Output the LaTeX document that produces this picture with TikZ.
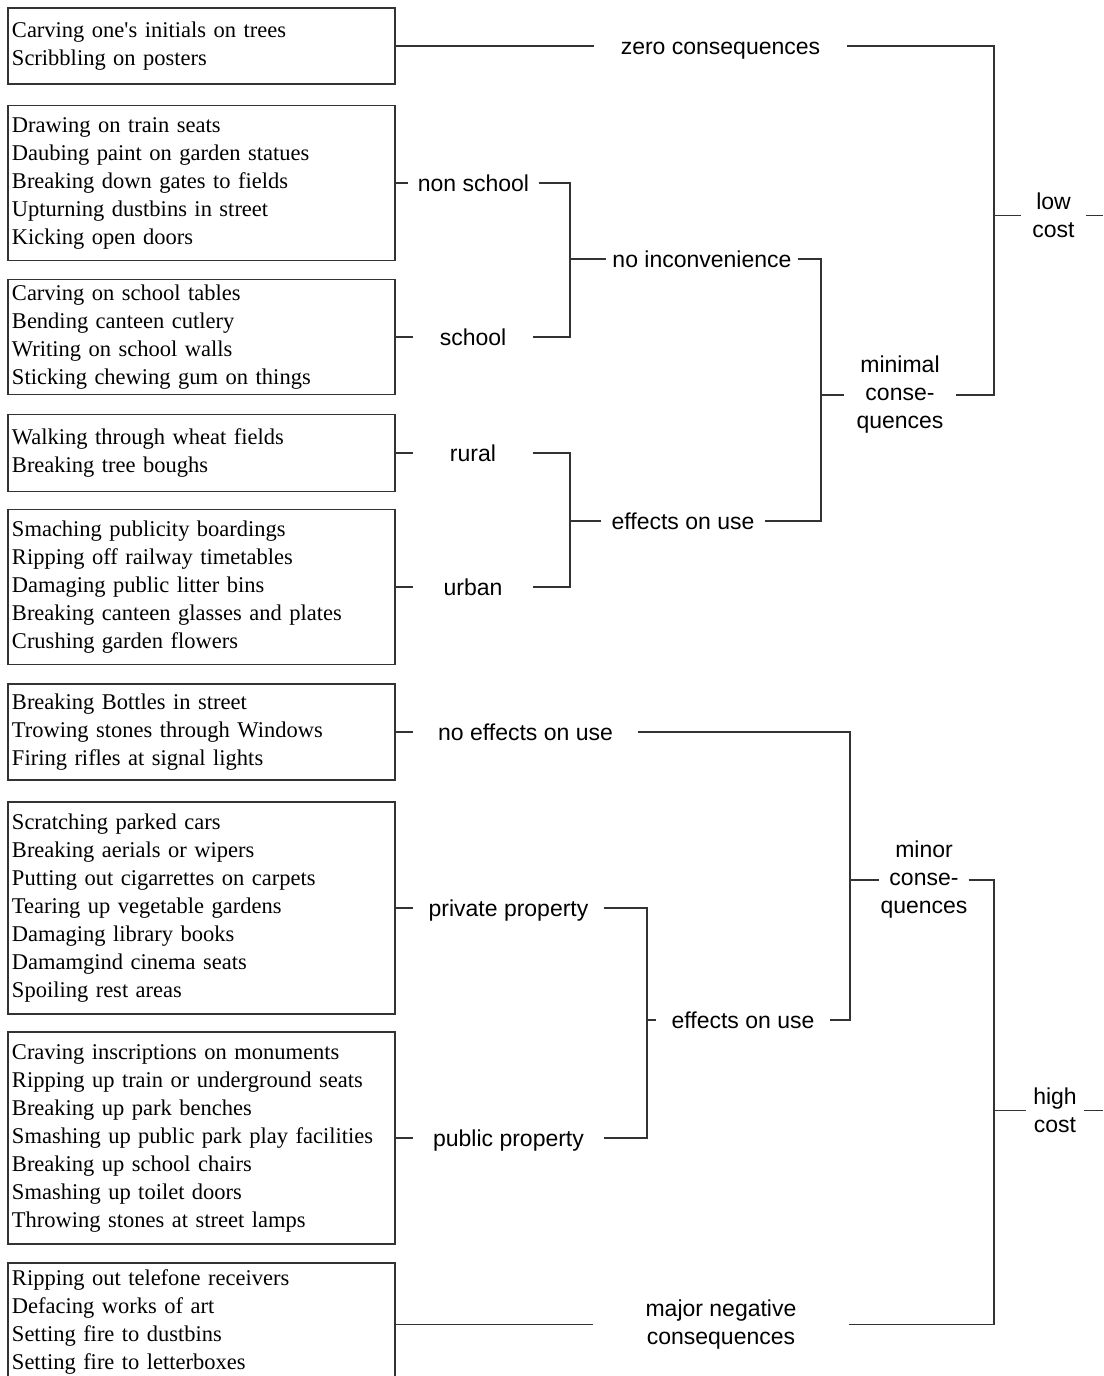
\documentclass[tikz,border=0pt]{standalone}
\usepackage{fontspec}
\setmainfont{Liberation Serif}
\newfontfamily\labfont{Liberation Sans}
\definecolor{ln}{HTML}{333333}

\begin{document}
\begin{tikzpicture}[x=1pt,y=-1pt,line width=1.3pt,draw=ln,
  box/.style={draw,rectangle,text width=379pt,inner xsep=4pt,inner ysep=0pt,align=left,font=\fontsize{22.5}{28}\selectfont},
  lab/.style={inner xsep=0pt,inner ysep=2pt,align=center,font=\labfont\fontsize{23}{28}\selectfont},
  one/.style={lab,text height=16pt,text depth=0pt}]
\useasboundingbox (0,0) rectangle (1103,1376);

\node[box,minimum height=76pt](b1) at (201.5,46) {Carving one\textquotesingle s initials on trees\\Scribbling on posters};
\node[box,minimum height=155pt](b2) at (201.5,183) {Drawing on train seats\\Daubing paint on garden statues\\Breaking down gates to fields\\Upturning dustbins in street\\Kicking open doors};
\node[box,minimum height=115pt](b3) at (201.5,337) {Carving on school tables\\Bending canteen cutlery\\Writing on school walls\\Sticking chewing gum on things};
\node[box,minimum height=77pt](b4) at (201.5,453) {Walking through wheat fields\\Breaking tree boughs};
\node[box,minimum height=155pt](b5) at (201.5,587) {Smaching publicity boardings\\Ripping off railway timetables\\Damaging public litter bins\\Breaking canteen glasses and plates\\Crushing garden flowers};
\node[box,minimum height=96pt](b6) at (201.5,732) {Breaking Bottles in street\\Trowing stones through Windows\\Firing rifles at signal lights};
\node[box,minimum height=212pt](b7) at (201.5,908) {Scratching parked cars\\Breaking aerials or wipers\\Putting out cigarrettes on carpets\\Tearing up vegetable gardens\\Damaging library books\\Damamgind cinema seats\\Spoiling rest areas};
\node[box,minimum height=212pt](b8) at (201.5,1138) {Craving inscriptions on monuments\\Ripping up train or underground seats\\Breaking up park benches\\Smashing up public park play facilities\\Breaking up school chairs\\Smashing up toilet doors\\Throwing stones at street lamps};
\node[box,minimum height=118pt](b9) at (201.5,1322) {Ripping out telefone receivers\\Defacing works of art\\Setting fire to dustbins\\Setting fire to letterboxes};

\node[one,minimum width=251pt](zero) at (720.5,46) {zero consequences};
\node[one,minimum width=129pt](nonschool) at (473.5,183) {non school};
\node[one,minimum width=118pt](school) at (473,337) {school};
\node[one,minimum width=190pt](noincon) at (702,259) {no inconvenience};
\node[one,minimum width=118pt](rural) at (473,453) {rural};
\node[one,minimum width=118pt](urban) at (473,587) {urban};
\node[one,minimum width=162pt](effuse1) at (683,521) {effects on use};
\node[lab,minimum width=110pt](minimal) at (900,395) {minimal\\conse-\\quences};
\node[lab,minimum width=63pt](lowcost) at (1053.5,215.5) {low\\cost};
\node[one,minimum width=223pt](noeffects) at (525.5,732) {no effects on use};
\node[one,minimum width=189pt](private) at (508.5,908) {private property};
\node[one,minimum width=189pt](public) at (508.5,1138) {public property};
\node[one,minimum width=172pt](effuse2) at (743,1020) {effects on use};
\node[lab,minimum width=88pt](minor) at (924,880) {minor\\conse-\\quences};
\node[lab,minimum width=254pt](major) at (721,1324.5) {major negative\\consequences};
\node[lab,minimum width=56pt](highcost) at (1055,1110.5) {high\\cost};

\coordinate (j1) at (570,259);
\coordinate (j2) at (821,395);
\coordinate (j3) at (570,521);
\coordinate (j4) at (994,215.5);
\coordinate (j5) at (647,1020);
\coordinate (j6) at (850,880);
\coordinate (j7) at (994,1110.5);
\coordinate (lowend) at (1103,215.5);
\coordinate (highend) at (1103,1110.5);

\draw (b1.east) -- (zero.west);
\draw (b2.east) -- (nonschool.west);
\draw (b3.east) -- (school.west);
\draw (b4.east) -- (rural.west);
\draw (b5.east) -- (urban.west);
\draw (b6.east) -- (noeffects.west);
\draw (b7.east) -- (private.west);
\draw (b8.east) -- (public.west);
\draw (b9.east) |- (major.west);

\draw (nonschool.east) -| (j1) |- (school.east);
\draw (j1) -- (noincon.west);
\draw (rural.east) -| (j3) |- (urban.east);
\draw (j3) -- (effuse1.west);
\draw (noincon.east) -| (j2) |- (effuse1.east);
\draw (j2) -- (minimal.west);
\draw (zero.east) -| (j4) |- (minimal.east);
\draw (j4) -- (lowcost.west);
\draw (lowcost.east) -- (lowend);

\draw (private.east) -| (j5) |- (public.east);
\draw (j5) -- (effuse2.west);
\draw (noeffects.east) -| (j6) |- (effuse2.east);
\draw (j6) -- (minor.west);
\draw (minor.east) -| (j7) |- (major.east);
\draw (j7) -- (highcost.west);
\draw (highcost.east) -- (highend);
\end{tikzpicture}
\end{document}
